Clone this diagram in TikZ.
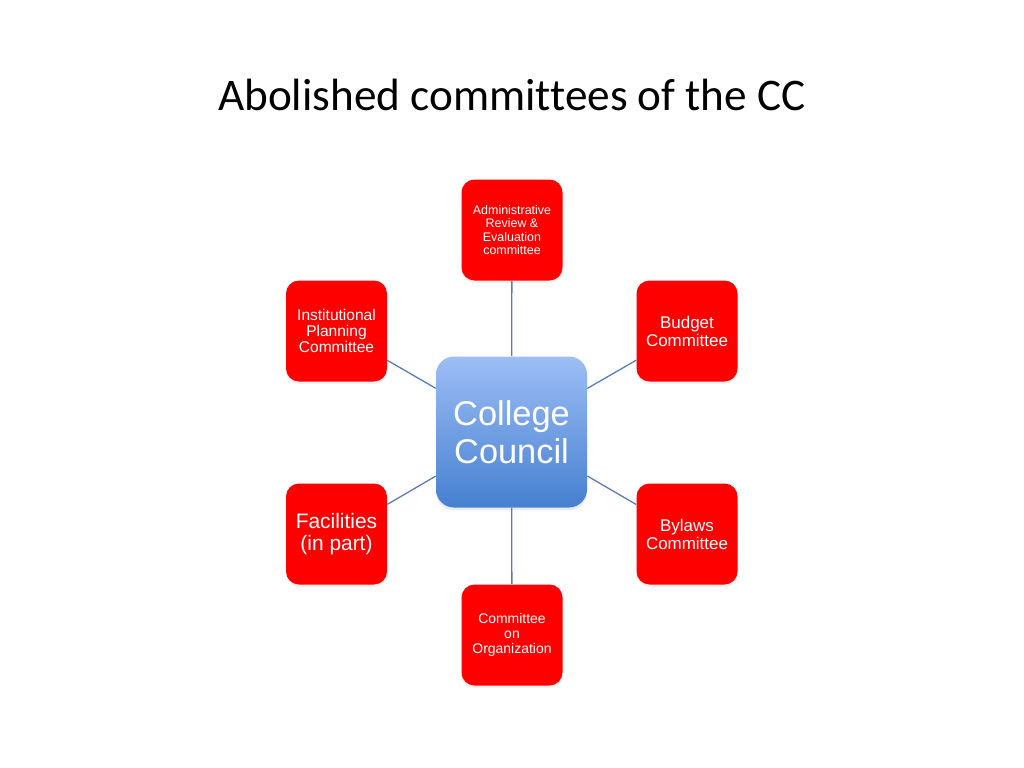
\documentclass[tikz,border=0pt]{standalone}
\usepackage{fontspec}
\usepackage{tikz}
\usetikzlibrary{shadows}
\newfontfamily\titlefont[Ligatures={NoCommon}]{Carlito}
\newfontfamily\boxfont{Liberation Sans}
\definecolor{boxred}{HTML}{FF0000}
\definecolor{ccTop}{HTML}{9DBEF6}
\definecolor{ccBottom}{HTML}{4680D0}
\definecolor{linkblue}{HTML}{5A7DB2}

\begin{document}
\begin{tikzpicture}[
        x = 1bp, y = -1bp,
        semithick % line style
    ]
    \tikzstyle{committee}=[
        fill = boxred,
        draw = none,
        rounded corners = 13bp,
        minimum width = 101bp,
        minimum height = 101bp,
        inner sep = 0pt,
        align = center,
        text = white,
        font = \boxfont,
        drop shadow = {opacity = 0.12, shadow xshift = 0pt, shadow yshift = -2.5pt}
    ]

    \tikzstyle{council}=[
        top color = ccTop,
        bottom color = ccBottom,
        draw = none,
        rounded corners = 18bp,
        minimum width = 151bp,
        minimum height = 151bp,
        inner sep = 0pt,
        align = center,
        text = white,
        font = \boxfont\fontsize{34.5}{38}\selectfont,
        drop shadow = {opacity = 0.15, shadow xshift = 0pt, shadow yshift = -3pt}
    ]

    \useasboundingbox (0, 0) rectangle (1024, 768);

    \node[anchor = base] (title) at (512, 110)
        {\titlefont\fontsize{45.4}{50}\selectfont Abolished committees of the CC};

    \node[council] (cc) at (511.5, 432) {College\\Council};

    \node[committee, font = \boxfont\fontsize{12.5}{13.3}\selectfont] (are) at (512, 230)
        {Administrative\\Review \&\\Evaluation\\committee};
    \node[committee, font = \boxfont\fontsize{15.6}{16.5}\selectfont] (ipc) at (336.5, 331)
        {Institutional\\Planning\\Committee};
    \node[committee, font = \boxfont\fontsize{17}{18}\selectfont] (bud) at (687, 331)
        {Budget\\Committee};
    \node[committee, font = \boxfont\fontsize{21}{22.5}\selectfont] (fac) at (336.5, 534)
        {Facilities\\(in part)};
    \node[committee, font = \boxfont\fontsize{17}{18}\selectfont] (byl) at (687, 534)
        {Bylaws\\Committee};
    \node[committee, font = \boxfont\fontsize{14}{15}\selectfont] (org) at (512, 635)
        {Committee\\on\\Organization};

    \path[-, linkblue, line width = 1.3bp] (cc) edge (are);
    \path[-, linkblue, line width = 1.3bp] (cc) edge (ipc);
    \path[-, linkblue, line width = 1.3bp] (cc) edge (bud);
    \path[-, linkblue, line width = 1.3bp] (cc) edge (fac);
    \path[-, linkblue, line width = 1.3bp] (cc) edge (byl);
    \path[-, linkblue, line width = 1.3bp] (cc) edge (org);

\end{tikzpicture}
\end{document}
